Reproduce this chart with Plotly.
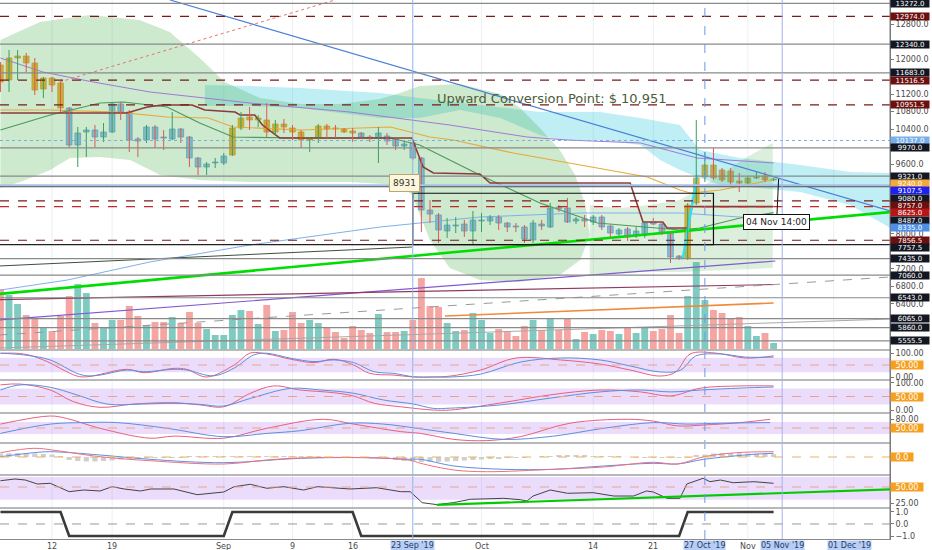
import numpy as np
import pandas as pd
import plotly.graph_objects as go

# daily bars, 6 Aug 2019 .. 4 Nov 2019
start_day = "2019-08-06"

opens = [11863, 11520, 12023, 12068, 11909, 11314, 11566, 11451, 10880, 10034,
         10331, 10377, 10217, 10331, 10971, 10788, 10171, 10148, 10446, 10217,
         10171, 10400, 10217, 9737, 9531, 9623, 9623, 9805, 10423, 10674,
         10606, 10606, 10331, 10514, 10423, 10331, 10148, 10194, 10468, 10423,
         10400, 10354, 10308, 10217, 10194, 10240, 10171, 10011, 10080, 9737,
         8548, 8434, 8068, 8183, 8228, 8068, 8297, 8297, 8388, 8251,
         8183, 8160, 7862, 8228, 8160, 8617, 8594, 8297, 8342, 8274,
         8388, 8183, 8000, 8114, 7977, 7977, 8274, 8228, 8022, 7496,
         7451, 8708, 9303, 9577, 9463, 9440, 9211, 9165, 9280, 9325, 9234]
highs = [11931, 12206, 12206, 12137, 12023, 11588, 11588, 11474, 10903, 10446,
         10446, 10491, 10537, 11017, 11017, 10834, 10217, 10491, 10491, 10377,
         10788, 10423, 10240, 9760, 9645, 9737, 9851, 10491, 10788, 10903,
         10720, 10994, 10606, 10628, 10491, 10377, 10217, 10514, 10514, 10491,
         10423, 10423, 10331, 10263, 10446, 10308, 10194, 10148, 10148, 9760,
         8777, 8480, 8365, 8388, 8320, 8525, 8480, 8434, 8434, 8274,
         8251, 8205, 8320, 8320, 8708, 8662, 8822, 8388, 8434, 8434,
         8434, 8205, 8137, 8160, 8160, 8274, 8365, 8274, 8045, 7519,
         8708, 10606, 9874, 9965, 9508, 9508, 9394, 9303, 9417, 9417, 9280]
lows = [11246, 11246, 11520, 11703, 11177, 11108, 11246, 10788, 9965, 9531,
        9760, 9988, 10103, 10308, 10606, 9874, 9760, 10080, 9965, 9920,
        10148, 10080, 9531, 9348, 9348, 9508, 9577, 9783, 10377, 10377,
        10446, 10217, 10263, 10308, 10148, 9965, 9874, 10080, 10194, 10194,
        10308, 10103, 10194, 10103, 9623, 10034, 9920, 9920, 9691, 8045,
        8251, 7794, 7908, 8022, 7931, 7748, 8045, 8205, 8091, 8045,
        8045, 7794, 7794, 8091, 8137, 8502, 8251, 8228, 8160, 8205,
        8091, 7931, 7931, 7839, 7908, 7908, 8205, 7977, 7337, 7405,
        7405, 8662, 9188, 9234, 9188, 9074, 8959, 9140, 9257, 9188, 9211]
closes = [11474, 12023, 12068, 11909, 11291, 11566, 11406, 10880, 10034, 10308,
          10377, 10217, 10331, 10971, 10788, 10148, 10125, 10446, 10171, 10194,
          10400, 10217, 9737, 9531, 9600, 9645, 9783, 10423, 10651, 10606,
          10651, 10331, 10514, 10446, 10331, 10148, 10194, 10468, 10400, 10400,
          10331, 10308, 10217, 10194, 10308, 10125, 10011, 10057, 9737, 8548,
          8457, 8091, 8205, 8205, 8068, 8320, 8320, 8388, 8251, 8160,
          8160, 7885, 8251, 8183, 8594, 8571, 8274, 8342, 8297, 8388,
          8160, 8022, 8091, 7931, 8068, 8251, 8228, 8022, 7474, 7451,
          8662, 9280, 9577, 9280, 9234, 9188, 9165, 9280, 9303, 9234, 9257]
volume = [61, 55, 46, 35, 32, 23, 19, 34, 54, 66,
          57, 27, 23, 30, 30, 44, 34, 25, 28, 28,
          33, 27, 38, 27, 21, 15, 15, 35, 40, 39,
          26, 45, 19, 20, 38, 27, 30, 27, 22, 18,
          12, 24, 20, 17, 36, 18, 18, 19, 30, 72,
          44, 43, 27, 19, 20, 37, 30, 17, 21, 19,
          14, 24, 30, 20, 32, 20, 31, 11, 18, 16,
          20, 19, 16, 23, 17, 23, 19, 21, 35, 17,
          54, 88, 50, 40, 37, 32, 33, 24, 14, 17, 7]
# bottom pane: +1 / -1 state (also the candle body colour)
regime = [1, 1, 1, 1, 1, 1, 1, 1, -1, -1,
          -1, -1, -1, -1, -1, -1, -1, -1, -1, -1,
          -1, -1, -1, -1, -1, -1, -1, 1, 1, 1,
          1, 1, 1, 1, 1, 1, 1, 1, 1, 1,
          1, 1, -1, -1, -1, -1, -1, -1, -1, -1,
          -1, -1, -1, -1, -1, -1, -1, -1, -1, -1,
          -1, -1, -1, -1, -1, -1, -1, -1, -1, -1,
          -1, -1, -1, -1, -1, -1, -1, -1, -1, -1,
          1, 1, 1, 1, 1, 1, 1, 1, 1, 1, 1]
macd_hist = [35, 38, 40, 38, 35, 30, 25, 10, -30, -40,
             -45, -45, -40, -35, -25, -20, -15, -10, -8, -5,
             -5, -3, 5, 5, 8, 8, 10, 10, 10, 8,
             8, 5, 5, 3, 3, 2, 2, 2, 0, 0,
             -2, -3, -5, -5, -8, -10, -30, -40, -45, -50,
             -50, -48, -45, -40, -35, -30, -25, -20, -15, -10,
             -5, -3, 0, 3, 10, 15, 15, 15, 12, 10,
             8, 5, 3, 0, -3, -5, -5, -3, -8, -10,
             -10, 15, 25, 35, 40, 40, 38, 35, 33, 30, 28]

# indicator curves, sampled off the chart: day offset from 6 Aug, value
ma_gold_k = [0, 5.8, 13.6, 19.4, 24.2, 27.1, 34.9, 45.4, 50.0, 52.7, 59.7, 67.5, 75.3, 79.1, 80.3, 83.8, 90]
ma_gold_p = [10834, 10834, 10788, 10674, 10651, 10446, 10377, 10446, 10217, 10148, 9851, 9577, 9303, 9005, 8937, 9005, 9240]
base_line_k = [0, 14.7, 17.1, 18.8, 22.3, 23.8, 27.3, 27.9, 29.6, 30.5, 32.5, 47.9, 49.2, 50.4, 55.8, 57.0,
               73.3, 74.8, 77.1, 77.6, 80.0, 80.5, 90]
base_line_p = [10765, 10765, 10903, 10948, 10948, 10834, 10788, 10720, 10720, 10491, 10194, 10194, 9531, 9394,
               9371, 9165, 9165, 8274, 8274, 8137, 8137, 8625, 8625]
ma_green_k = [0, 5.8, 11.6, 14.3, 19.4, 23.2, 27.1, 34.9, 45.4, 48.8, 55.8, 62.8, 69.5, 79.1, 81.4, 86.1, 90]
ma_green_p = [10377, 10720, 10994, 11017, 10903, 10537, 10217, 10194, 10194, 10034, 9348, 8708, 8251, 8091, 8137, 8365, 8487]
ma_blue_k = [0, 7.8, 17.4, 29.05, 44.2, 55.8, 67.5, 79.1, 90]
ma_blue_p = [6719, 6948, 7360, 7748, 8160, 8388, 8480, 8480, 8335]
ma_purple_k = [0, 4.95, 10.8, 17.4, 29.05, 40.7, 52.3, 61.3, 66.0, 74.5, 81.1, 90]
ma_purple_p = [12023, 11703, 11474, 11246, 10994, 10788, 10491, 10217, 10148, 10080, 9737, 9623]

# cloud outlines (upper edge left->right, then lower edge right->left)
cloud_green_k = [0, 4.6, 10.4, 16.2, 19.7, 23.2, 26.1, 30.2, 34.9, 39.5, 44.2, 46.5, 48.8, 53.5, 58.2, 60.5,
                 62.8, 65.1, 66.9, 68.1, 68.6, 67.5, 65.1, 60.5, 55.8, 52.3, 50.0, 48.8, 47.9, 46.5, 40.7,
                 34.9, 29.05, 23.2, 18.6, 15.1, 11.6, 8.1, 5.8, 2.3, 0]
cloud_green_p = [12434, 12846, 13006, 12891, 12617, 12023, 11474, 11108, 10971, 10971, 11086, 11223, 11383,
                 11429, 11200, 10880, 10423, 9920, 9348, 8662, 7977, 7405, 7062, 6902, 6948, 7222, 7862, 8434,
                 8891, 9120, 9188, 9188, 9188, 9234, 9348, 9691, 9760, 9737, 9463, 9188, 9051]
band_green_k = [68.6, 72.1, 75.6, 79.1, 81.4, 83.8, 86.7, 89.9, 89.9, 83.8, 79.1, 74.5, 69.8, 68.6]
band_green_p = [8662, 8594, 8662, 8777, 9051, 9348, 9737, 10080, 7222, 7176, 7131, 7131, 7062, 7062]
cloud_cyan_k = [23.8, 29.05, 34.9, 44.2, 48.8, 54.7, 62.8, 69.8, 74.5, 79.1, 81.4, 86.1, 93.1, 98.9, 103.6,
                103.6, 98.9, 93.1, 88.4, 83.8, 81.4, 79.1, 76.8, 74.5, 69.8, 65.1, 62.8, 58.2, 53.5, 48.8,
                44.2, 34.9, 29.05, 23.8]
cloud_cyan_p = [11406, 11383, 11337, 11223, 11108, 10971, 10788, 10788, 10651, 10491, 9920, 9737, 9577, 9417,
                9394, 8137, 8662, 8959, 9051, 9120, 9280, 9463, 9691, 10034, 10148, 10148, 10263, 10651,
                10834, 10651, 10651, 10880, 10926, 10926]

# drawn trend lines: two anchor points each (day offset, price)
trend_lines = [
    ([19.74, 103.6], [13349, 8525], "#4a7fd8", 1.2, "solid"),
    ([6.9, 38.95], [11474, 13349], "#e57373", 1.0, "dot"),
    ([-0.2, 103.6], [6628, 8502], "#00dd00", 2.6, "solid"),
    ([-0.2, 90.2], [6033, 7382], "#7e5bd0", 1.2, "solid"),
    ([-0.2, 90.2], [6500, 6845], "#8e3b62", 1.2, "solid"),
    ([-0.2, 103.6], [5690, 7017], "#9a9a9a", 1.0, "dash"),
    ([51.75, 90.0], [6125, 6422], "#f08a3c", 1.6, "solid"),
    ([-0.2, 103.6], [5393, 6056], "#a8a8a8", 1.0, "solid"),
    ([-0.2, 47.9], [7268, 7702], "#3e4f3e", 1.0, "solid"),
    ([79.45, 81.1], [7451, 9348], "#33e0ee", 2.6, "solid"),
]

# horizontal levels and the labels on the price scale
level_prices = [13272.0, 12974.0, 12340.0, 11683.0, 11516.5, 10951.5, 10137.0, 9970.0, 9321.0,
                9107.5, 9080.0, 8757.0, 8625.0, 7856.5, 7757.5, 7435.0, 7060.0, 6543.0, 6065.0,
                5860.0, 5555.5]
level_kinds = ["solid", "resist", "solid", "solid", "resist", "resist", "dotted", "solid", "solid",
               "pale", "thin", "resist", "red", "resist", "dark", "solid", "solid", "solid", "solid",
               "solid", "solid"]
label_prices = [13272.0, 12974.0, 12340.0, 11683.0, 11516.5, 10951.5, 10137.0, 9970.0, 9321.0, 9240.0,
                9107.5, 9080.0, 8757.0, 8625.0, 8487.0, 8335.0, 7856.5, 7757.5, 7435.0, 7060.0,
                6543.0, 6065.0, 5860.0, 5555.5]
label_colors = ["#131722", "#6b0f0f", "#131722", "#131722", "#6b0f0f", "#6b0f0f", "#79aee6", "#131722",
                "#131722", "#f2a93b", "#1f1ff0", "#131722", "#6b0f0f", "#b51616", "#131722", "#4d8fe6",
                "#6b0f0f", "#131722", "#131722", "#131722", "#131722", "#131722", "#131722", "#131722"]
price_ticks = [6400, 6800, 7200, 8000, 9600, 10400, 10800, 11200, 12000, 12800]

# oscillator panes (day offset, value)
p1_blue_k = [0, 2.7, 5.8, 8.9, 10.1, 11.6, 14.7, 16.7, 20.2, 21.7, 24.8, 27.2, 29.5, 31.0, 33.8, 36.5, 38.8,
             41.1, 43.5, 45.8, 48.1, 50.4, 52.4, 55.9, 60.5, 65.2, 69.8, 73.3, 76.8, 79.2, 80.9, 83.8, 86.7, 90]
p1_blue_v = [99, 92, 71, 15, 5, 8, 29, 22, 32, 29, 5, 37, 92, 99, 78, 64, 71, 60, 22, 15, 1, 0, 0, 12, 62,
             79, 71, 46, 21, 29, 87, 96, 83, 83]
p1_red_k = [0, 2.7, 5.0, 8.9, 10.1, 14.7, 16.7, 20.2, 21.7, 24.0, 27.2, 29.1, 31.0, 33.8, 36.5, 38.8, 41.1,
            43.0, 45.8, 48.1, 50.4, 52.4, 55.9, 60.0, 65.2, 69.8, 73.3, 76.8, 78.6, 80.3, 83.2, 86.7, 90]
p1_red_v = [99, 96, 71, 4, 1, 32, 18, 36, 32, 0, 50, 100, 96, 74, 60, 74, 50, 15, 8, 0, 0, 4, 29, 79, 71,
            54, 29, 4, 21, 96, 100, 79, 88]
p2_blue_k = [0, 2.3, 5.8, 8.9, 12.4, 16.3, 20.2, 23.2, 26.0, 29.1, 33.8, 37.3, 41.1, 44.6, 48.1, 50.4, 52.4,
             58.2, 64.0, 69.8, 74.5, 78.0, 81.5, 86.1, 90]
p2_blue_v = [74, 93, 84, 56, 22, 22, 25, 21, 15, 43, 80, 74, 62, 37, 22, 6, 7, 19, 44, 67, 74, 67, 74, 81, 85]
p2_red_k = [0, 2.3, 5.8, 8.5, 11.6, 15.5, 20.2, 23.2, 26.0, 29.1, 31.8, 34.9, 38.8, 41.1, 43.5, 46.6, 50.4,
            52.4, 58.2, 64.0, 69.8, 74.5, 78.0, 81.5, 86.1, 90]
p2_red_v = [93, 96, 74, 31, 10, 22, 27, 19, 12, 62, 89, 74, 64, 52, 25, 12, 0, 0, 26, 56, 74, 67, 52, 81, 89, 89]
p3_blue_k = [0, 5.8, 9.7, 13.6, 19.4, 26.0, 31.0, 34.9, 40.7, 44.6, 48.5, 52.8, 58.6, 64.4, 70.2, 76.0,
             79.9, 83.8, 89.6]
p3_blue_v = [32, 63, 68, 68, 49, 21, 32, 41, 66, 63, 49, 32, 12, 23, 49, 68, 63, 66, 68]
p3_red_k = [0, 5.8, 7.7, 11.6, 17.4, 20.2, 26.0, 31.0, 37.6, 41.1, 46.6, 48.9, 52.8, 56.6, 60.5, 66.3,
            73.0, 76.0, 78.8, 81.9, 86.1, 89.6]
p3_red_v = [63, 90, 82, 49, 16, 23, 16, 49, 79, 63, 38, 32, 12, 8, 21, 66, 79, 73, 57, 60, 68, 79]
macd_k = [0, 3.9, 5.8, 11.6, 17.4, 26.0, 34.9, 42.7, 47.7, 48.9, 52.8, 58.6, 64.4, 70.2, 76.0, 78.8,
          81.9, 87.7, 90]
macd_v = [3, 43, 53, 20, -23, -57, -13, -7, -23, -23, -90, -123, -123, -90, -63, -70, -23, 27, 37]
signal_k = [0, 3.9, 6.6, 11.6, 17.4, 26.0, 31.0, 34.9, 42.7, 47.7, 48.9, 52.8, 56.6, 64.4, 70.2, 76.0,
            78.8, 81.9, 85.7, 90]
signal_v = [43, 87, 63, 3, -37, -70, -30, -10, -7, -33, -63, -130, -147, -123, -100, -53, -70, 3, 43, 53]
p5_k = [0, 1.7, 2.9, 4.3, 5.8, 8.0, 9.7, 11.6, 13.0, 14.4, 16.3, 17.5, 20.2, 22.9, 26.0, 27.2, 29.1, 31.0,
        33.0, 35.3, 36.9, 40.7, 43.8, 46.6, 47.7, 49.1, 50.8, 52.7, 54.7, 58.6, 60.5, 61.3, 62.0, 64.0,
        66.0, 69.0, 71.4, 73.7, 75.2, 76.0, 77.6, 79.1, 79.9, 81.8, 82.6, 83.8, 85.3, 87.7, 90]
p5_v = [59.8, 62.5, 60.9, 54.7, 55.8, 42.7, 45.3, 43.8, 50.5, 46.9, 43.8, 46.9, 46.9, 38.0, 42.2, 50.5,
        54.2, 48.0, 50.5, 45.3, 50.5, 46.9, 48.9, 42.7, 42.7, 25.5, 22.5, 25.5, 30.8, 32.3, 30.2, 28.1,
        35.9, 45.3, 40.2, 41.1, 35.9, 35.9, 43.8, 42.2, 32.3, 32.3, 54.7, 63.6, 58.3, 60.9, 56.7, 58.3, 55.8]
p5_trend_k = [50.8, 103.6]
p5_trend_v = [22, 46.4]

tick_days = ["2019-08-12", "2019-08-19", "2019-09-01", "2019-09-09", "2019-09-16",
             "2019-10-01", "2019-10-14", "2019-10-21", "2019-11-01", "2019-11-11"]
tick_text = ["12", "19", "Sep", "9", "16", "Oct", "14", "21", "Nov", "11"]
marker_days = ["2019-09-23", "2019-10-27", "2019-11-05"]
marker_text = ["23 Sep '19", "27 Oct '19", "05 Nov '19"]
view_start, view_end = "2019-08-05 22:48", "2019-11-17 13:12"
price_range = [5348, 13349]

DAY_MS = 86400000


def at(k):
    return pd.Timestamp(start_day) + pd.to_timedelta(np.asarray(k, dtype=float), unit="D")


days = at(np.arange(len(opens)))

# pane heights in pixels (plot area 539 px tall)
pane_px = [350, 30, 33, 30, 32, 33, 31]
total = sum(pane_px)
edges = np.cumsum([0] + pane_px)
domains = [[1 - edges[i + 1] / total, 1 - edges[i] / total] for i in range(len(pane_px))]

fig = go.Figure()

# volume underneath, on its own hidden scale
vol_colors = ["#7fcbc1" if c >= o else "#f5a5a2" for o, c in zip(opens, closes)]
fig.add_trace(go.Bar(x=days, y=volume, yaxis="y", marker=dict(color=vol_colors, line_width=0),
                     width=0.8 * DAY_MS, hoverinfo="skip"))

for ks, ps, col in [(cloud_cyan_k, cloud_cyan_p, "rgba(0,188,212,0.25)"),
                    (cloud_green_k, cloud_green_p, "rgba(76,175,80,0.28)"),
                    (band_green_k, band_green_p, "rgba(76,175,80,0.2)")]:
    fig.add_trace(go.Scatter(x=at(ks), y=ps, yaxis="y2", mode="lines", fill="toself",
                             fillcolor=col, line=dict(width=0), hoverinfo="skip"))

for ks, ps, col, w in [(ma_purple_k, ma_purple_p, "#a07ad8", 1.0),
                       (ma_blue_k, ma_blue_p, "#7fb0ea", 1.0),
                       (ma_gold_k, ma_gold_p, "#e8a93a", 1.2),
                       (ma_green_k, ma_green_p, "#4d9a5a", 1.2),
                       (base_line_k, base_line_p, "#8c3a3a", 1.6)]:
    fig.add_trace(go.Scatter(x=at(ks), y=ps, yaxis="y2", mode="lines",
                             line=dict(color=col, width=w), hoverinfo="skip"))

for ks, ps, col, w, dash in trend_lines:
    fig.add_trace(go.Scatter(x=at(ks), y=ps, yaxis="y2", mode="lines",
                             line=dict(color=col, width=w, dash=dash), hoverinfo="skip"))

# candles: wicks coloured by direction, bodies coloured by the regime
for up, col in [(True, "#3a9f5c"), (False, "#e25555")]:
    wx, wy = [], []
    for i in range(len(opens)):
        if (closes[i] >= opens[i]) == up:
            wx += [days[i], days[i], None]
            wy += [lows[i], highs[i], None]
    fig.add_trace(go.Scatter(x=wx, y=wy, yaxis="y2", mode="lines",
                             line=dict(color=col, width=1), hoverinfo="skip"))

body_fill = ["#f6ad35" if r > 0 else "#93bff2" for r in regime]
body_edge = ["#e0931a" if r > 0 else "#5f97dd" for r in regime]
fig.add_trace(go.Bar(x=days, y=[max(abs(c - o), 22) for o, c in zip(opens, closes)],
                     base=[min(o, c) for o, c in zip(opens, closes)], yaxis="y2",
                     width=0.66 * DAY_MS, marker=dict(color=body_fill, line=dict(color=body_edge, width=0.7)),
                     hoverinfo="skip"))

# oscillators
for ks, vs, ax, col in [(p1_red_k, p1_red_v, "y3", "#ea5f7e"), (p1_blue_k, p1_blue_v, "y3", "#5c8fe0"),
                        (p2_red_k, p2_red_v, "y4", "#ea5f7e"), (p2_blue_k, p2_blue_v, "y4", "#5c8fe0"),
                        (p3_red_k, p3_red_v, "y5", "#ea5f7e"), (p3_blue_k, p3_blue_v, "y5", "#5c8fe0")]:
    fig.add_trace(go.Scatter(x=at(ks), y=vs, yaxis=ax, mode="lines",
                             line=dict(color=col, width=1, shape="spline"), hoverinfo="skip"))

fig.add_trace(go.Bar(x=days, y=macd_hist, yaxis="y6", width=0.6 * DAY_MS,
                     marker=dict(color="#cfcfcf", line_width=0), hoverinfo="skip"))
fig.add_trace(go.Scatter(x=at(macd_k), y=macd_v, yaxis="y6", mode="lines",
                         line=dict(color="#5c8fe0", width=1, shape="spline"), hoverinfo="skip"))
fig.add_trace(go.Scatter(x=at(signal_k), y=signal_v, yaxis="y6", mode="lines",
                         line=dict(color="#f07080", width=1, shape="spline"), hoverinfo="skip"))

fig.add_trace(go.Scatter(x=at(p5_k), y=p5_v, yaxis="y7", mode="lines",
                         line=dict(color="#444444", width=1), hoverinfo="skip"))
fig.add_trace(go.Scatter(x=at(p5_trend_k), y=p5_trend_v, yaxis="y7", mode="lines",
                         line=dict(color="#00cc00", width=2.2), hoverinfo="skip"))

fig.add_trace(go.Scatter(x=days, y=regime, yaxis="y8", mode="lines",
                         line=dict(color="#3a3a3a", width=2.6), hoverinfo="skip"))

shapes = []
# faint vertical grid
for d in tick_days:
    shapes.append(dict(type="line", xref="x", yref="paper", x0=d, x1=d, y0=0, y1=1,
                       line=dict(color="#eceff4", width=1), layer="below"))

# oscillator bands and mid lines
for ax, lo, hi, mid in [("y3", 20, 80, 50), ("y4", 20, 80, 50), ("y5", 30, 70, 50), ("y7", 30, 65.6, 50)]:
    shapes.append(dict(type="rect", xref="paper", yref=ax, x0=0, x1=1, y0=lo, y1=hi,
                       fillcolor="rgba(155,80,235,0.2)", line=dict(width=0), layer="below"))
    shapes.append(dict(type="line", xref="paper", yref=ax, x0=0, x1=1, y0=mid, y1=mid,
                       line=dict(color="#e6a58a", width=1, dash="dash")))
shapes.append(dict(type="line", xref="paper", yref="y6", x0=0, x1=1, y0=0, y1=0,
                   line=dict(color="#f0b060", width=1, dash="dash")))
shapes.append(dict(type="line", xref="paper", yref="y8", x0=0, x1=1, y0=0, y1=0,
                   line=dict(color="#9a9a9a", width=1, dash="dash")))

level_style = {
    "solid": dict(color="#8a8a8a", width=1.2),
    "resist": dict(color="#7a1a1a", width=1.2, dash="dash"),
    "red": dict(color="#c62828", width=1.2, dash="dash"),
    "dotted": dict(color="#79aee6", width=1, dash="dot"),
    "pale": dict(color="#a9c0e6", width=2.5),
    "thin": dict(color="#555555", width=1),
    "dark": dict(color="#222222", width=1.4),
}
for p, kind in zip(level_prices, level_kinds):
    shapes.append(dict(type="line", xref="paper", yref="y2", x0=0, x1=1, y0=p, y1=p,
                       line=level_style[kind]))

# Sep 23 -> Oct 28 range box
shapes.append(dict(type="rect", xref="x", yref="y2", x0="2019-09-23", x1="2019-10-28",
                   y0=7757.5, y1=8931, line=dict(color="#111111", width=1.2)))

# vertical markers
for d, col, dash in zip(marker_days, ["#8fb6ee", "#6d9ae6", "#a8b0ee"], ["solid", "dash", "solid"]):
    shapes.append(dict(type="line", xref="x", yref="paper", x0=d, x1=d, y0=0, y1=1,
                       line=dict(color=col, width=1, dash=dash)))

# pane separators and scale border
for dom in domains[1:]:
    shapes.append(dict(type="line", xref="paper", yref="paper", x0=0, x1=1, y0=dom[1], y1=dom[1],
                       line=dict(color="#b8b8b8", width=2)))
shapes.append(dict(type="line", xref="paper", yref="paper", x0=1, x1=1, y0=0, y1=1,
                   line=dict(color="#7a7a7a", width=1)))

annotations = []
lab_font = dict(family="DejaVu Sans", size=7, color="white")

# price-scale labels, pushed apart so they do not overlap
px_per_price = pane_px[0] / (price_range[1] - price_range[0])
gap = 7.3 / px_per_price
prev = None
for p, col in zip(label_prices, label_colors):
    shown = p if prev is None else min(p, prev - gap)
    prev = shown
    annotations.append(dict(xref="paper", yref="y2", x=1, y=shown, xanchor="left", yanchor="middle",
                            xshift=0, text=f"{p:.1f}", showarrow=False, bgcolor=col, font=lab_font,
                            width=38, height=7, borderpad=0, align="center"))

for ax, txt in [("y3", "50.00"), ("y4", "50.00"), ("y5", "50.00"), ("y6", "0.0"), ("y7", "50.00")]:
    annotations.append(dict(xref="paper", yref=ax, x=1, y=0 if ax == "y6" else 50, xanchor="left",
                            yanchor="middle", xshift=0, text=txt, showarrow=False, bgcolor="#f6a021",
                            font=dict(family="DejaVu Sans", size=8, color="white"),
                            width=32 if ax != "y6" else 22, height=8, borderpad=0))

# time scale labels
for d, txt in zip(tick_days, tick_text):
    annotations.append(dict(xref="x", yref="paper", x=d, y=0, yanchor="top", yshift=-1, text=txt,
                            showarrow=False, font=dict(family="DejaVu Sans", size=8, color="#4a4a4a")))
for d, txt in zip(marker_days, marker_text):
    annotations.append(dict(xref="x", yref="paper", x=d, y=0, yanchor="top", yshift=-1, text=txt,
                            showarrow=False, bgcolor="#b7cdf3", height=9, borderpad=0,
                            font=dict(family="DejaVu Sans", size=8, color="#1d3c6e")))
annotations.append(dict(xref="paper", yref="paper", x=0.98, y=0, yanchor="top", yshift=-1,
                        text="01 Dec '19", showarrow=False, bgcolor="#b7cdf3", height=9, borderpad=0,
                        font=dict(family="DejaVu Sans", size=8, color="#1d3c6e")))

annotations.append(dict(xref="x", yref="y2", x=at([64.2])[0], y=11100,
                        text="Upward Conversion Point: $ 10,951", showarrow=False,
                        font=dict(family="DejaVu Sans", size=13, color="#4d5c3a")))
annotations.append(dict(xref="x", yref="y2", x="2019-09-23", y=8931, text="8931", showarrow=True,
                        arrowhead=0, arrowcolor="#b8a878", ax=-8, ay=-10, bgcolor="#fcf6dc",
                        bordercolor="#b8a878", borderwidth=1, borderpad=3,
                        font=dict(family="DejaVu Sans", size=9, color="#333333")))
annotations.append(dict(xref="x", yref="y2", x="2019-11-04 14:00", y=9257, text="04 Nov 14:00",
                        showarrow=True, arrowhead=0, arrowcolor="#111111", arrowwidth=1, ax=-2, ay=43,
                        bgcolor="white", bordercolor="#111111", borderwidth=1, borderpad=2,
                        font=dict(family="DejaVu Sans", size=9, color="#222222")))

tick_font = dict(family="DejaVu Sans", size=8, color="#4a4a4a")


def scale(domain, rng, vals, fmt):
    return dict(domain=domain, range=rng, side="right", anchor="x", tickvals=vals, tickformat=fmt,
                showgrid=False, zeroline=False, showline=True, linecolor="#7a7a7a", ticks="outside",
                ticklen=3, tickcolor="#7a7a7a", tickfont=tick_font, fixedrange=True)


price_axis = scale(domains[0], price_range, price_ticks, ".1f")
price_axis.update(overlaying="y")
price_axis.pop("domain")

fig.update_layout(
    width=932, height=550, margin=dict(l=0, r=42, t=0, b=11),
    paper_bgcolor="white", plot_bgcolor="white", showlegend=False, barmode="overlay",
    font=dict(family="DejaVu Sans"),
    xaxis=dict(domain=[0, 1], anchor="y8", range=[view_start, view_end], showticklabels=False,
               showgrid=False, zeroline=False, showline=True, linecolor="#8a8a8a", ticks=""),
    yaxis=dict(domain=domains[0], range=[0, max(volume) * 3.98], visible=False, fixedrange=True),
    yaxis2=price_axis,
    yaxis3=scale(domains[1], [-12.5, 112.5], [0, 100], ".2f"),
    yaxis4=scale(domains[2], [-11, 111], [0, 100], ".2f"),
    yaxis5=scale(domains[3], [0, 100], [80], ".2f"),
    yaxis6=scale(domains[4], [-180, 140], [], ".1f"),
    yaxis7=scale(domains[5], [17.2, 68.75], [25, 50], ".2f"),
    yaxis8=scale(domains[6], [-1.25, 1.33], [-1, 0, 1], ".1f"),
    shapes=shapes, annotations=annotations,
)

fig.write_html("out.html", config={"displayModeBar": False},
               post_script="document.body.style.margin='0';document.body.style.padding='0';")
